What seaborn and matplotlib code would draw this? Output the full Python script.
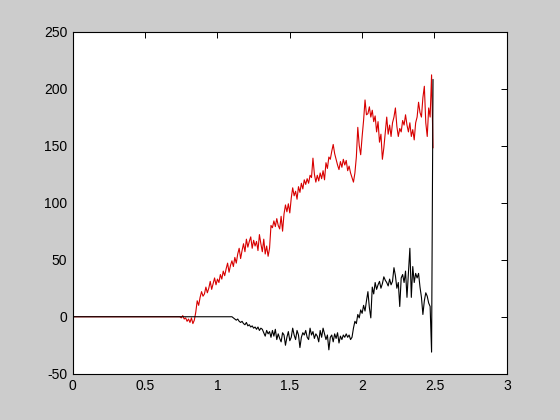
import numpy as np
import pandas as pd
import matplotlib
matplotlib.use("Agg")
import matplotlib.pyplot as plt
import seaborn as sns

# ---- data ----
step = 0.01
red_start = 0.74
red_vals = [
    0, -1, 1, -2, -1, -4, -2, -5, -1, -6,            # 0.74
    -3, 4, 14, 10, 17, 22, 18, 20, 26, 21,           # 0.84
    25, 31, 24, 29, 34, 28, 33, 30, 37, 33,          # 0.94
    40, 36, 42, 47, 39, 45, 49, 44, 52, 47,          # 1.04
    55, 60, 51, 58, 64, 57, 68, 61, 66, 70,          # 1.14
    60, 67, 62, 66, 58, 72, 64, 57, 68, 55,          # 1.24
    62, 53, 60, 80, 78, 84, 79, 86, 80, 77,          # 1.34
    88, 75, 90, 98, 92, 99, 91, 104, 113, 106,       # 1.44
    110, 103, 114, 109, 117, 112, 120, 116, 121, 117,  # 1.54
    124, 122, 139, 125, 118, 124, 119, 126, 121, 128,  # 1.64
    120, 135, 130, 140, 138, 145, 151, 143, 138, 133,  # 1.74
    129, 136, 131, 138, 133, 137, 128, 132, 126, 122,  # 1.84
    118, 126, 140, 166, 150, 142, 158, 172, 190, 177,  # 1.94
    178, 184, 175, 181, 171, 176, 162, 171, 153, 160,  # 2.04
    138, 148, 162, 175, 160, 168, 158, 170, 175, 183,  # 2.14
    167, 158, 165, 162, 172, 168, 177, 168, 162, 170,  # 2.24
    158, 164, 155, 170, 175, 188, 179, 175, 192, 202,  # 2.34
    170, 158, 183, 175, 212, 148,                      # 2.44
]
black_start = 1.09
black_vals = [
    0, 0, -1, -2, -3, -2, -4, -5, -4, -6,            # 1.09
    -7, -5, -8, -7, -9, -8, -10, -9, -11, -9,        # 1.19
    -12, -10, -11, -14, -17, -12, -15, -13, -18, -12,  # 1.29
    -17, -11, -20, -15, -19, -22, -14, -16, -25, -18,  # 1.39
    -13, -21, -18, -10, -16, -20, -12, -16, -27, -18,  # 1.49
    -14, -16, -12, -18, -20, -10, -16, -13, -19, -15,  # 1.59
    -17, -22, -12, -18, -10, -15, -20, -16, -29, -18,  # 1.69
    -16, -22, -15, -19, -14, -23, -17, -20, -16, -18,  # 1.79
    -15, -18, -16, -20, -18, -10, -4, -6, 2, -1,     # 1.89
    6, 3, 10, 5, 14, 22, 8, -1, 26, 20,              # 1.99
    30, 24, 28, 31, 25, 29, 35, 32, 30, 27,          # 2.09
    33, 28, 31, 43, 36, 25, 30, 9, 34, 37,           # 2.19
    30, 40, 17, 38, 60, 17, 44, 30, 38, 34,          # 2.29
    38, 26, 17, 2, 14, 21, 18, 12, 9, -31,           # 2.39
    208,                                             # 2.49
]
x_ticks = [0, 0.5, 1, 1.5, 2, 2.5, 3]
x_tick_labels = ["0", "0.5", "1", "1.5", "2", "2.5", "3"]
y_ticks = [-50, 0, 50, 100, 150, 200, 250]
y_tick_labels = ["-50", "0", "50", "100", "150", "200", "250"]

red_t = [0.0] + list(np.round(red_start + step * np.arange(len(red_vals)), 2))
red_y = [0.0] + red_vals
black_t = [0.0] + list(np.round(black_start + step * np.arange(len(black_vals)), 2))
black_y = [0.0] + black_vals

red_df = pd.DataFrame({"t": red_t, "v": red_y})
black_df = pd.DataFrame({"t": black_t, "v": black_y})

# ---- figure ----
sns.set_style("white")
plt.rcParams["font.family"] = ["Liberation Sans", "DejaVu Sans"]

fig = plt.figure(figsize=(5.6, 4.2), dpi=100)
fig.patch.set_facecolor((0.8, 0.8, 0.8))
ax = fig.add_axes([0.13, 0.11, 0.775, 0.815])
ax.set_facecolor("white")

sns.lineplot(data=red_df, x="t", y="v", ax=ax, color="#d80000",
             linewidth=0.8, sort=False, estimator=None)
sns.lineplot(data=black_df, x="t", y="v", ax=ax, color="black",
             linewidth=0.8, sort=False, estimator=None)

ax.set_xlim(0, 3)
ax.set_ylim(-50, 250)
ax.set_xticks(x_ticks)
ax.set_xticklabels(x_tick_labels)
ax.set_yticks(y_ticks)
ax.set_yticklabels(y_tick_labels)
ax.set_xlabel("")
ax.set_ylabel("")
ax.tick_params(direction="in", length=4, width=0.7, top=True, right=True,
               labelsize=10, colors="black", pad=4)
for s in ax.spines.values():
    s.set_visible(True)
    s.set_color("black")
    s.set_linewidth(0.8)

fig.savefig("out.png", dpi=100, facecolor=fig.get_facecolor())
